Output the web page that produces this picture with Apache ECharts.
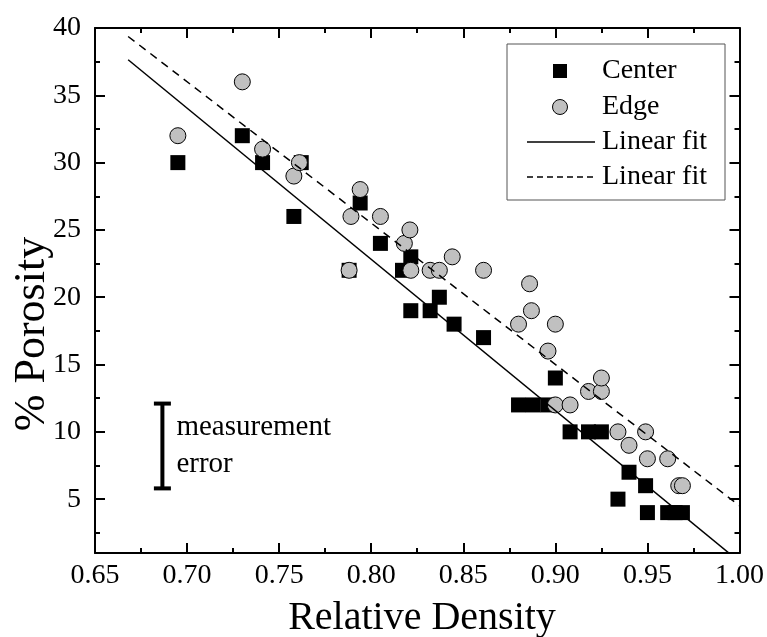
<!DOCTYPE html>
<html>
<head>
<meta charset="utf-8">
<script src="https://cdn.jsdelivr.net/npm/echarts@6/dist/echarts.min.js"></script>
<style>
  html, body { margin: 0; padding: 0; background: #fff; }
  #chart { width: 767px; height: 637px; }
</style>
</head>
<body>
<div id="chart"></div>
<script>
// Porosity vs relative density, centre and edge samples
const centerX = [0.695, 0.730, 0.741, 0.758, 0.762, 0.788, 0.794, 0.805, 0.817, 0.8215,
                 0.8215, 0.832, 0.837, 0.845, 0.861, 0.880, 0.888, 0.896, 0.900, 0.908,
                 0.918, 0.925, 0.934, 0.940, 0.949, 0.950, 0.961, 0.965, 0.969];
const centerY = [30, 32, 30, 26, 30, 22, 27, 24, 22, 23,
                 19, 19, 20, 18, 17, 12, 12, 12, 14, 10,
                 10, 10, 5, 7, 6, 4, 4, 4, 4];

const edgeX = [0.695, 0.730, 0.741, 0.758, 0.761, 0.788, 0.789, 0.794, 0.805, 0.818,
               0.821, 0.8215, 0.832, 0.837, 0.844, 0.861, 0.880, 0.886, 0.887, 0.896,
               0.900, 0.900, 0.908, 0.918, 0.925, 0.925, 0.934, 0.940, 0.949, 0.950,
               0.961, 0.967, 0.969];
const edgeY = [32, 36, 31, 29, 30, 22, 26, 28, 26, 24,
               25, 22, 22, 22, 23, 22, 18, 21, 19, 16,
               18, 12, 12, 13, 13, 14, 10, 9, 10, 8,
               8, 6, 6];

// Linear fit end points
const fitCenterX = [0.668, 1.0];
const fitCenterY = [37.64, 0.35];
const fitEdgeX = [0.668, 1.0];
const fitEdgeY = [39.37, 4.51];

// Measurement error bar: x, low, high
const errorBar = [[0.6866, 5.8, 12.1]];

// Tick values
const xTicks = [0.65, 0.70, 0.75, 0.80, 0.85, 0.90, 0.95, 1.00];
const xMinor = [0.675, 0.725, 0.775, 0.825, 0.875, 0.925, 0.975];
const yTicks = [5, 10, 15, 20, 25, 30, 35, 40];
const yMinor = [2.5, 7.5, 12.5, 17.5, 22.5, 27.5, 32.5, 37.5];

const seriesNames = ['Center', 'Edge', 'Linear fit', 'Linear fit'];

const FONT = '"Liberation Serif", "Times New Roman", serif';
const zip = (a, b) => a.map((v, i) => [v, b[i]]);

const GRID = { left: 95, top: 28, width: 647, height: 525 };
const X_MIN = 0.65, X_MAX = 1.0, Y_MIN = 1, Y_MAX = 40;

function xAxisDef(position, ticks, major) {
  return {
    type: 'value', position: position, min: X_MIN, max: X_MAX,
    axisLine: { show: major, onZero: false, lineStyle: { color: '#000', width: 2 } },
    axisTick: { show: true, inside: true, length: major ? 10 : 5, customValues: ticks,
                lineStyle: { color: '#000', width: 2 } },
    axisLabel: { show: major && position === 'bottom', customValues: ticks,
                 formatter: v => v.toFixed(2), color: '#000', fontFamily: FONT, fontSize: 28, margin: 9 },
    splitLine: { show: false }
  };
}
function yAxisDef(position, ticks, major) {
  return {
    type: 'value', position: position, min: Y_MIN, max: Y_MAX,
    axisLine: { show: major, onZero: false, lineStyle: { color: '#000', width: 2 } },
    axisTick: { show: true, inside: true, length: major ? 10 : 5, customValues: ticks,
                lineStyle: { color: '#000', width: 2 } },
    axisLabel: { show: major && position === 'left', customValues: ticks,
                 formatter: v => String(v), color: '#000', fontFamily: FONT, fontSize: 28, margin: 14 },
    splitLine: { show: false }
  };
}

const chart = echarts.init(document.getElementById('chart'), null, { renderer: 'canvas' });

const legendLeft = 507, legendTop = 44;
const rowY = [71, 107, 142, 177];

chart.setOption({
  animation: false,
  backgroundColor: '#fff',
  grid: GRID,
  xAxis: [
    xAxisDef('bottom', xTicks, true),
    xAxisDef('bottom', xMinor, false),
    xAxisDef('top', xTicks, true),
    xAxisDef('top', xMinor, false)
  ],
  yAxis: [
    yAxisDef('left', yTicks, true),
    yAxisDef('left', yMinor, false),
    yAxisDef('right', yTicks, true),
    yAxisDef('right', yMinor, false)
  ],
  series: [
    {
      name: seriesNames[0], type: 'scatter', data: zip(centerX, centerY),
      symbol: 'rect', symbolSize: 15, itemStyle: { color: '#000', opacity: 1 }, z: 2
    },
    {
      name: seriesNames[1], type: 'scatter', data: zip(edgeX, edgeY),
      symbol: 'circle', symbolSize: 16,
      itemStyle: { color: '#c0c0c0', borderColor: '#000', borderWidth: 1, opacity: 1 }, z: 3
    },
    {
      name: seriesNames[2], type: 'line', data: zip(fitCenterX, fitCenterY),
      showSymbol: false, symbol: 'none', clip: true,
      lineStyle: { color: '#000', width: 1.5, type: 'solid' }, z: 4
    },
    {
      name: seriesNames[3], type: 'line', data: zip(fitEdgeX, fitEdgeY),
      showSymbol: false, symbol: 'none', clip: true,
      lineStyle: { color: '#000', width: 1.5, type: [8, 6] }, z: 4
    },
    {
      type: 'custom', data: errorBar, clip: false, z: 5,
      renderItem: function (params, api) {
        const x = api.value(0);
        const lo = api.coord([x, api.value(1)]);
        const hi = api.coord([x, api.value(2)]);
        const cap = 8.5;
        const ls = { stroke: '#000', lineWidth: 4 };
        return {
          type: 'group',
          children: [
            { type: 'line', shape: { x1: lo[0], y1: lo[1], x2: hi[0], y2: hi[1] }, style: ls },
            { type: 'line', shape: { x1: hi[0] - cap, y1: hi[1], x2: hi[0] + cap, y2: hi[1] }, style: ls },
            { type: 'line', shape: { x1: lo[0] - cap, y1: lo[1], x2: lo[0] + cap, y2: lo[1] }, style: ls },
            { type: 'text', x: hi[0] + 14, y: (hi[1] + lo[1]) / 2 - 19,
              style: { text: 'measurement', fill: '#000', font: '29px ' + FONT,
                       verticalAlign: 'middle', align: 'left' } },
            { type: 'text', x: hi[0] + 14, y: (hi[1] + lo[1]) / 2 + 18,
              style: { text: 'error', fill: '#000', font: '29px ' + FONT,
                       verticalAlign: 'middle', align: 'left' } }
          ]
        };
      }
    }
  ],
  graphic: [
    // axis titles
    { type: 'text', x: 422, y: 618,
      style: { text: 'Relative Density', fill: '#000', font: '40px ' + FONT,
               align: 'center', verticalAlign: 'middle' } },
    { type: 'text', x: 32, y: 334, rotation: Math.PI / 2,
      style: { text: '% Porosity', fill: '#000', font: '44px ' + FONT,
               align: 'center', verticalAlign: 'middle' } },
    // legend box
    { type: 'rect', shape: { x: legendLeft, y: legendTop, width: 218, height: 156 },
      style: { fill: '#fff', stroke: '#555', lineWidth: 1 }, z: 10 },
    { type: 'rect', shape: { x: 553, y: rowY[0] - 7, width: 14, height: 14 },
      style: { fill: '#000' }, z: 11 },
    { type: 'circle', shape: { cx: 560, cy: rowY[1], r: 7.5 },
      style: { fill: '#c0c0c0', stroke: '#000', lineWidth: 1 }, z: 11 },
    { type: 'line', shape: { x1: 527, y1: rowY[2], x2: 595, y2: rowY[2] },
      style: { stroke: '#000', lineWidth: 1.5 }, z: 11 },
    { type: 'line', shape: { x1: 527, y1: rowY[3], x2: 595, y2: rowY[3] },
      style: { stroke: '#000', lineWidth: 1.5, lineDash: [6, 4] }, z: 11 },
    ...seriesNames.map((n, i) => ({
      type: 'text', x: 602, y: rowY[i], z: 11,
      style: { text: n, fill: '#000', font: '28px ' + FONT, verticalAlign: 'middle' }
    }))
  ]
});
</script>
</body>
</html>
